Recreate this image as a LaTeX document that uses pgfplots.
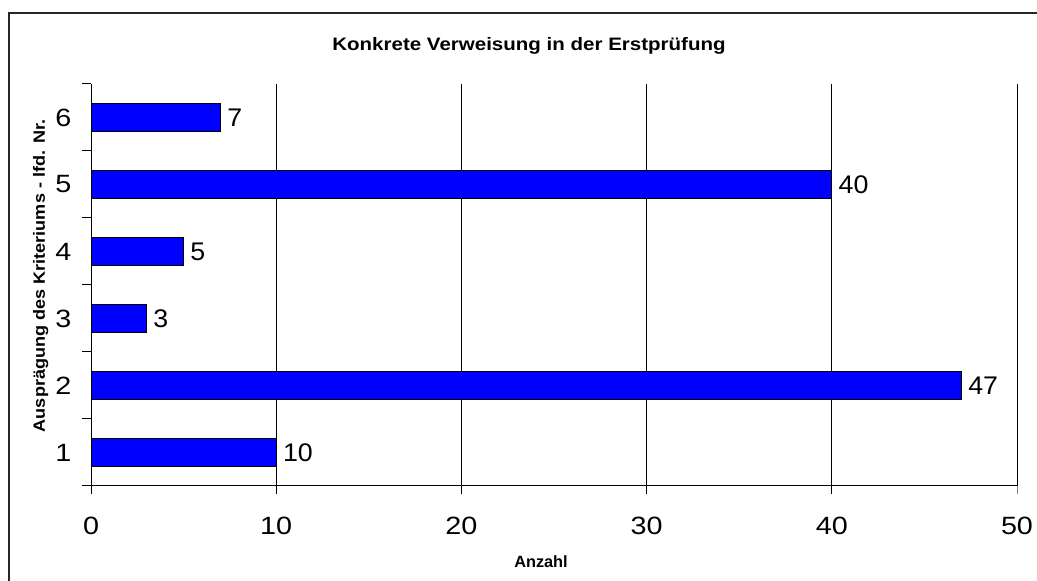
\documentclass[border=0pt]{standalone}
\usepackage{pgfplots}
\pgfplotsset{compat=1.18}
\usepackage{fontspec}
\setmainfont{Liberation Sans}
\newfontfamily\titlefont{Liberation Sans}[FakeStretch=1.14]
\newfontfamily\tickfont{Liberation Sans}[FakeStretch=1.15]
\newfontfamily\ylfont{Liberation Sans}[FakeStretch=1.11]
\newfontfamily\valfont{Liberation Sans}[FakeStretch=1.05]
\begin{document}
\begin{tikzpicture}[x=1pt,y=1pt]
\useasboundingbox (0,0) rectangle (1037,581);
\draw[line width=1.3pt, black!85] (9,-20) rectangle (1060,568);
\begin{axis}[
  scale only axis,
  width=926pt, height=402pt,
  at={(91pt,95pt)}, anchor=south west,
  xbar, bar width=0.41,
  bar shift=0pt,
  xmin=0, xmax=50,
  ymin=0.5, ymax=6.5,
  axis x line*=bottom, axis y line*=left,
  axis line style={line width=1pt, -},
  xtick={0,10,...,40},
  extra x ticks={50},
  extra x tick style={grid style={gray, line width=1pt}, tick style={gray, line width=1pt}},
  xmajorgrids,
  major grid style={black, line width=1pt},
  ytick={0.5,1.5,...,6.5},
  yticklabels={},
  extra y ticks={1,2,3,4,5,6},
  extra y tick labels={1,2,3,4,5,6},
  extra y tick style={major tick length=0pt},
  major tick length=8.5pt,
  tick align=outside,
  tick style={black, line width=1pt},
  /pgf/number format/assume math mode=true,
  ticklabel style={font=\tickfont\fontsize{25}{30}\selectfont},
  xticklabel style={yshift=-19pt},
  yticklabel style={xshift=-16pt},
  nodes near coords,
  nodes near coords style={font=\valfont\fontsize{25.5}{30}\selectfont, /pgf/number format/assume math mode=true, xshift=3pt},
  clip=false,
]
\addplot[fill={rgb,255:red,0;green,0;blue,255}, draw=black, line width=1pt] coordinates {
(10,1) (47,2) (3,3) (5,4) (40,5) (7,6)
};
\end{axis}
\node[font=\titlefont\bfseries\fontsize{18}{22}\selectfont, anchor=base] at (529,530) {Konkrete Verweisung in der Erstprüfung};
\node[font=\ylfont\bfseries\fontsize{16.3}{20}\selectfont, rotate=90, anchor=base] at (45,305) {Ausprägung des Kriteriums - lfd. Nr.};
\node[font=\bfseries\fontsize{16.3}{20}\selectfont, anchor=base] at (541,13) {Anzahl};
\end{tikzpicture}
\end{document}
